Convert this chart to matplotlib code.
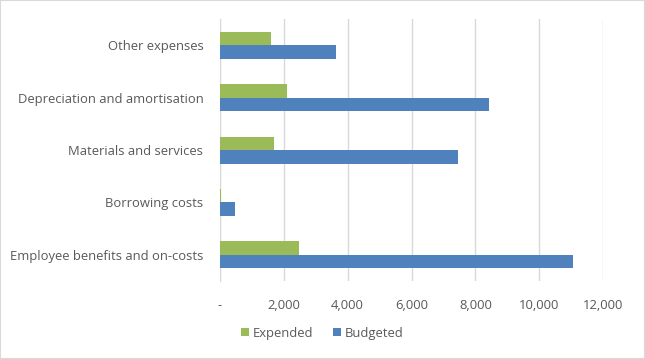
import numpy as np
import matplotlib.pyplot as plt
import matplotlib as mpl
from matplotlib.patches import Rectangle
from matplotlib.ticker import FuncFormatter

mpl.rcParams['font.family'] = ['Open Sans', 'DejaVu Sans']

categories = ['Employee benefits and on-costs', 'Borrowing costs', 'Materials and services',
              'Depreciation and amortisation', 'Other expenses']
expended = [2480, 30, 1700, 2100, 1600]
budgeted = [11060, 470, 7450, 8430, 3650]
xticks = [0, 2000, 4000, 6000, 8000, 10000, 12000]

green = '#9BBB59'
blue = '#4F81BD'
txt = '#595959'

fig = plt.figure(figsize=(6.45, 3.59), dpi=100)
ax = fig.add_axes([0.341, 0.217, 0.594, 0.730])

y = np.arange(len(categories))
h = 0.257
ax.barh(y + h/2, expended, height=h, color=green, label='Expended', zorder=3)
ax.barh(y - h/2, budgeted, height=h, color=blue, label='Budgeted', zorder=3)

ax.set_ylim(-0.5, len(categories) - 0.5)
ax.set_xlim(0, 12000)
ax.set_xticks(xticks)
ax.xaxis.set_major_formatter(FuncFormatter(lambda v, p: '-' if v == 0 else f'{int(v):,}'))
ax.set_yticks(y)
ax.set_yticklabels(categories)
ax.tick_params(length=0, labelsize=9.4, colors=txt)
ax.tick_params(axis='x', pad=13)
ax.tick_params(axis='y', pad=12)
ax.grid(axis='x', color='#D9D9D9', linewidth=1, zorder=0)
for s in ['top', 'right', 'bottom']:
    ax.spines[s].set_visible(False)
ax.spines['left'].set_color('#D9D9D9')

leg = fig.legend(loc='center', bbox_to_anchor=(0.5, 1 - 333/359), ncol=2, frameon=False,
                 fontsize=9.4, handlelength=0.6, handleheight=0.6, handletextpad=0.3,
                 columnspacing=1.5)
for t in leg.get_texts():
    t.set_color(txt)

fig.patches.append(Rectangle((0, 0), 1, 1, transform=fig.transFigure, fill=False,
                             edgecolor='#D9D9D9', linewidth=1.5))

plt.savefig('out.png', dpi=100)
